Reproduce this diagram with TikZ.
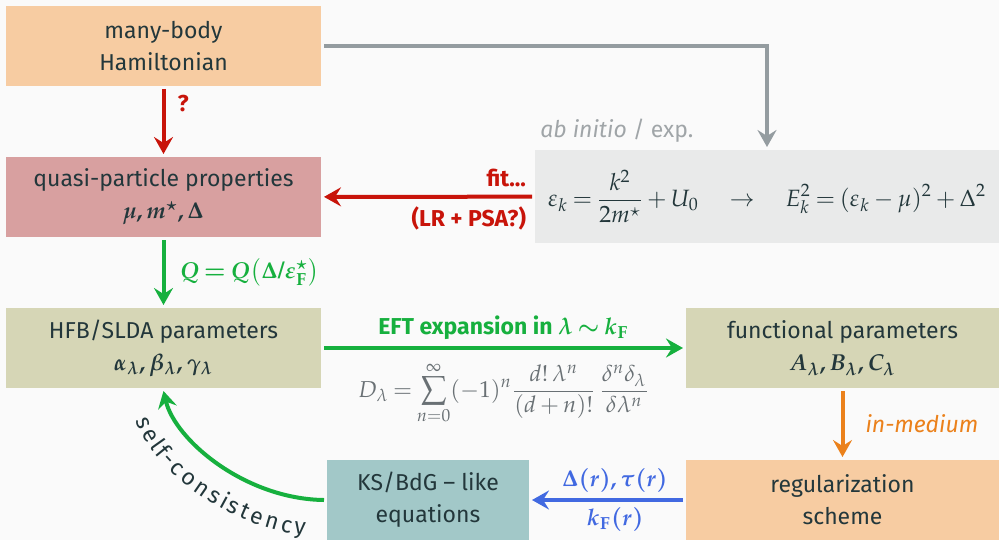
\documentclass[tikz,border=0pt]{standalone}
\usepackage{amsmath}
\usepackage{mathpazo}
\usepackage[no-math]{fontspec}
\setmainfont{Fira Sans}
\usetikzlibrary{arrows.meta,decorations.text}

\definecolor{bgc}{RGB}{250,250,250}
\definecolor{dtext}{RGB}{35,55,59}
\definecolor{peach}{RGB}{247,204,162}
\definecolor{rose}{RGB}{216,160,160}
\definecolor{khaki}{RGB}{214,214,182}
\definecolor{boxteal}{RGB}{162,200,200}
\definecolor{eqgray}{RGB}{233,234,234}
\definecolor{arrred}{RGB}{200,20,10}
\definecolor{arrgreen}{RGB}{22,176,62}
\definecolor{arrorange}{RGB}{235,129,27}
\definecolor{arrblue}{RGB}{65,105,225}
\definecolor{arrgray}{RGB}{148,156,160}
\definecolor{abgray}{RGB}{160,165,168}
\definecolor{mathgray}{RGB}{105,112,116}

\tikzset{
  box/.style={rectangle, inner sep=0pt, outer sep=1.5pt, minimum width=157.5pt,
    minimum height=40pt, align=center, text=dtext},
  conn/.style={line width=2pt, -{Stealth[length=8.5pt, width=9.5pt, inset=3pt]}},
  lbl/.style={font=\bfseries, inner sep=2pt},
}

\begin{document}
\fontsize{11.5}{16}\selectfont
\thickmuskip=3.5mu plus 2mu
\medmuskip=3mu plus 2mu minus 3mu
\begin{tikzpicture}[x=0.5pt,y=-0.5pt]
\fill[bgc] (0,0) rectangle (999,540);
\useasboundingbox (0,0) rectangle (999,540);

% boxes
\node[box, fill=peach] (ham) at (163.5,46) {many-body\\Hamiltonian};
\node[box, fill=rose] (qp) at (163.5,197) {quasi-particle properties\\{\boldmath$\mu, m^\star, \Delta$}};
\node[box, fill=khaki] (hfb) at (163.5,348) {HFB/SLDA parameters\\{\boldmath$\alpha_\lambda, \beta_\lambda, \gamma_\lambda$}};
\node[box, fill=khaki, minimum width=156.5pt] (func) at (842.5,348) {functional parameters\\{\boldmath$A_\lambda, B_\lambda, C_\lambda$}};
\node[box, fill=peach, minimum width=156.5pt] (reg) at (842.5,500) {regularization\\scheme};
\node[box, fill=boxteal, minimum width=101pt] (ks) at (428,500) {KS/BdG -- like\\equations};
\node[box, fill=eqgray, minimum width=232pt, minimum height=46.5pt, font=\fontsize{11.8}{16}\selectfont] (eq) at (767,196.5)
  {$\displaystyle \varepsilon_k = \frac{k^2}{2m^\star} + U_0 \mskip20mu\to\mskip20mu E_k^2 = (\varepsilon_k-\mu)^2+\Delta^2$};
\node[anchor=south west, inner sep=2pt, text=abgray, xshift=2pt] (abi) at (eq.north west) {\itshape ab initio\/ \upshape/ exp.};

% connectors
\draw[conn, arrgray] (ham.east) -| (eq.north);
\draw[conn, arrred] (ham) -- (qp) node[lbl, pos=0.22, right=4pt] {?};
\draw[conn, arrred] (eq) -- (qp)
  node[lbl, pos=0, anchor=south east, yshift=2pt] {fit...}
  node[lbl, pos=0, anchor=north east, yshift=-2pt] {(LR + PSA?)};
\draw[conn, arrgreen] (qp) -- (hfb)
  node[lbl, pos=0.5, right=5pt] {{\boldmath$Q = Q\bigl(\Delta/\varepsilon^\star_{\mathbf F}\bigr)$}};
\draw[conn, arrgreen] (hfb) -- (func)
  node[lbl, pos=0.5, above=1pt] {EFT expansion in {\boldmath$\lambda \sim k_{\mathbf F}$}}
  node[pos=0.5, below=2pt, text=mathgray] {$\displaystyle D_\lambda = \sum_{n=0}^{\infty} (-1)^n \frac{d!\,\lambda^n}{(d+n)!}\,\frac{\delta^n\delta_\lambda}{\delta\lambda^n}$};
\draw[conn, arrorange] (func) -- (reg) node[pos=0.5, right=8.5pt, inner sep=2pt] {\itshape in-medium};
\draw[conn, arrblue] (reg) -- (ks)
  node[lbl, pos=0.45, above=1pt] {{\boldmath$\Delta(r), \tau(r)$}}
  node[lbl, pos=0.45, below=1pt] {{\boldmath$k_{\mathbf F}(r)$}};
\draw[conn, arrgreen] (ks.west) .. controls (245,499) and (175,440) .. (hfb.south);

% label along the loop
\path[decorate, decoration={text effects along path, text={self-consistency},
  text effects/.cd, text along path, fit text to path, characters={text=dtext}}]
  (136,420) .. controls (155,478) and (240,530) .. (305,535);
\end{tikzpicture}
\end{document}
